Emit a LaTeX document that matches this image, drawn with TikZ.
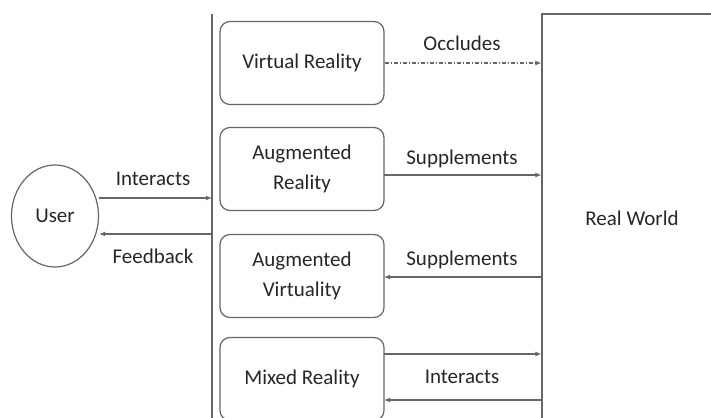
\documentclass[tikz,border=0pt]{standalone}
\usepackage{fontspec}
\setmainfont{Carlito}
\usetikzlibrary{arrows.meta,shapes.geometric}
\definecolor{edge}{HTML}{666666}
\definecolor{ink}{HTML}{262626}
\tikzset{
  bigfont/.style={font=\fontsize{21}{30}\selectfont},
  lbl/.style={text=ink, bigfont, inner sep=0pt},
  modebox/.style={draw=edge, line width=1.2pt, rounded corners=10pt, minimum width=164pt,
    minimum height=83pt, align=center, text=ink, bigfont, inner sep=0pt},
  link/.style={draw=edge, line width=1.2pt, -{Latex[length=6pt,width=5pt]}},
}
\begin{document}
\begin{tikzpicture}[x=1pt, y=-1pt]
  \useasboundingbox (0,0) rectangle (711,417);
  \clip (0,0) rectangle (711,417);
  % user
  \node[draw=edge, line width=1.2pt, ellipse, minimum width=87pt, minimum height=102pt,
        text=ink, bigfont, inner sep=0pt] (user) at (55,216) {User};
  % divider between user and the modes
  \coordinate (bartop) at (212,14);
  \coordinate (barbot) at (212,425);
  \draw[edge, line width=1.2pt] (bartop) -- (barbot);
  % real world
  \node[draw=edge, line width=1.2pt, minimum width=180pt, minimum height=408pt,
        text=ink, bigfont] (rw) at (632,218) {Real World};
  % modes
  \node[modebox] (vr) at (302,63) {Virtual Reality};
  \node[modebox] (ar) at (302,169) {Augmented\\Reality};
  \node[modebox] (av) at (302,276) {Augmented\\Virtuality};
  \node[modebox] (mr) at (302,379) {Mixed Reality};
  % user <-> divider
  \coordinate (uin) at (212,198);
  \coordinate (uout) at (212,234);
  \draw[link] (user.east |- uin) -- (uin);
  \draw[link] (uout) -- (user.east |- uout);
  \node[lbl] (linter) at (153,179) {Interacts};
  \node[lbl] (lfeed) at (153,256) {Feedback};
  % modes <-> real world
  \draw[link, dash pattern=on 4pt off 2pt on 1pt off 2pt] (vr.east) -- (vr.east -| rw.west);
  \node[lbl] (locc) at (462,43) {Occludes};
  \coordinate (arl) at (384,175);
  \draw[link] (arl) -- (arl -| rw.west);
  \node[lbl] (lsup1) at (462,159) {Supplements};
  \coordinate (avl) at (384,277);
  \draw[link] (avl -| rw.west) -- (avl);
  \node[lbl] (lsup2) at (462,260) {Supplements};
  \coordinate (mra) at (384,354);
  \coordinate (mrb) at (384,400);
  \draw[link] (mra) -- (mra -| rw.west);
  \draw[link] (mrb -| rw.west) -- (mrb);
  \node[lbl] (lint2) at (462,377) {Interacts};
\end{tikzpicture}
\end{document}
